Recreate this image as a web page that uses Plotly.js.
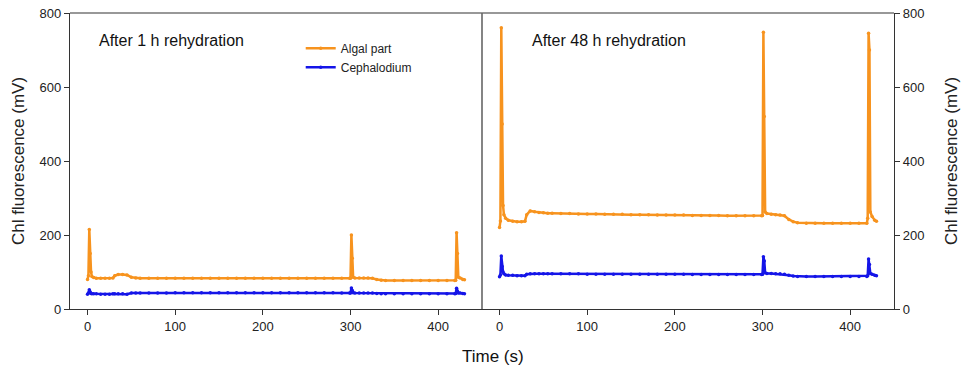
<!DOCTYPE html>
<html>
<head>
<meta charset="utf-8">
<script src="https://cdn.plot.ly/plotly-3.0.1.min.js"></script>
<style>html,body{margin:0;padding:0;background:#fff;}#chart{width:961px;height:372px;}</style>
</head>
<body>
<div id="chart"></div>
<script>
// Time points (s), shared by both panels
const time = [0,1,2,3,4,5,7,10,15,20,25,29,31,35,40,45,50,55,60,70,80,90,100,110,120,130,140,150,160,170,180,190,200,210,220,230,240,250,260,270,280,290,299,300,301,302,303,305,310,315,320,325,330,335,340,350,360,370,380,390,400,410,419,420,421,422,423,425,428,430];

// After 1 h rehydration
const algal1h = [80,90,215,150,100,88,85,83,83,83,83,84,90,93,93,92,86,84,83,83,83,83,83,83,83,83,83,83,83,83,83,83,83,83,83,83,83,83,83,83,83,83,83,83,200,137,86,84,84,84,84,83,80,78,77,77,77,77,77,77,77,77,77,78,206,150,86,84,80,79];
const ceph1h  = [40,43,52,46,42,41,41,41,40,40,40,41,41,41,41,40,43,43,43,43,43,43,44,44,44,44,44,44,44,44,44,44,44,44,44,44,44,44,44,44,44,43,43,43,57,50,44,43,43,43,43,43,42,41,41,41,41,41,41,41,41,41,41,42,56,48,43,43,42,41];

// After 48 h rehydration
const algal48h = [220,238,760,500,280,255,245,240,237,236,236,237,255,265,263,261,260,259,259,258,258,257,257,257,256,256,256,255,255,255,254,254,254,254,253,253,253,253,252,252,252,252,252,253,748,520,262,258,256,255,254,252,242,236,233,232,232,232,232,232,232,232,232,245,745,700,262,250,240,237];
const ceph48h  = [87,92,143,115,100,95,92,91,91,90,90,90,94,95,95,95,95,95,95,95,95,95,94,94,94,94,94,94,94,94,94,94,94,94,93,93,93,93,93,93,93,93,93,94,141,130,98,96,96,95,95,94,91,89,88,88,88,88,88,88,88,88,88,90,135,120,96,94,91,90];

const seriesNames = ['Algal part','Cephalodium'];
const ORANGE = '#F7931E', BLUE = '#1515E8';
const yTicks = [0,200,400,600,800];
const xTicks = [0,100,200,300,400];
const FONT = 'Liberation Sans, Arial, sans-serif';

function tr(y, name, color, xa, ya, show){
  return {x: time, y: y, name: name, xaxis: xa, yaxis: ya, type:'scatter', mode:'lines+markers',
    showlegend: show, line:{color: color, width: 2.5}, marker:{color: color, size: 3.5}};
}
const data = [
  tr(algal1h, seriesNames[0], ORANGE, 'x', 'y', true),
  tr(ceph1h, seriesNames[1], BLUE, 'x', 'y', true),
  tr(algal48h, seriesNames[0], ORANGE, 'x2', 'y2', false),
  tr(ceph48h, seriesNames[1], BLUE, 'x2', 'y2', false)
];

const axCommon = {showgrid:false, zeroline:false, showline:true, linecolor:'#333', linewidth:1.2,
  ticks:'outside', ticklen:5, tickcolor:'#333', tickfont:{family:FONT, size:13, color:'#222'}};

const layout = {
  width: 961, height: 372,
  margin: {l:70, r:67, t:13, b:63},
  paper_bgcolor:'#fff', plot_bgcolor:'#fff',
  font: {family: FONT, color:'#222'},
  showlegend: true,
  legend: {x:0.28, y:0.93, xanchor:'left', yanchor:'top', font:{family:FONT, size:12, color:'#222'},
    bgcolor:'rgba(0,0,0,0)', tracegroupgap:0},
  xaxis: Object.assign({}, axCommon, {domain:[0,0.5], range:[-20,450], tickvals:xTicks, anchor:'y'}),
  xaxis2: Object.assign({}, axCommon, {domain:[0.5,1], range:[-20,450], tickvals:xTicks, anchor:'y2'}),
  yaxis: Object.assign({}, axCommon, {range:[0,800], tickvals:yTicks, anchor:'x',
    title:{text:'Chl fluorescence (mV)', font:{family:FONT, size:17, color:'#222'}, standoff:10}}),
  yaxis2: Object.assign({}, axCommon, {range:[0,800], tickvals:yTicks, anchor:'x2', side:'right',
    title:{text:'Chl fluorescence (mV)', font:{family:FONT, size:17, color:'#222'}, standoff:22}}),
  shapes: [
    {type:'line', xref:'paper', yref:'paper', x0:0, x1:1, y0:1, y1:1, line:{color:'#333', width:1.2}},
    {type:'line', xref:'paper', yref:'paper', x0:0.5, x1:0.5, y0:0, y1:1, line:{color:'#666', width:1.6}}
  ],
  annotations: [
    {text:'After 1 h rehydration', xref:'paper', yref:'paper', x:(97-70)/824, y:(309-40)/296,
      xanchor:'left', yanchor:'middle', showarrow:false, font:{family:FONT, size:16, color:'#111'}},
    {text:'After 48 h rehydration', xref:'paper', yref:'paper', x:(530-70)/824, y:(309-40)/296,
      xanchor:'left', yanchor:'middle', showarrow:false, font:{family:FONT, size:16, color:'#111'}},
    {text:'Time (s)', xref:'paper', yref:'paper', x:(493-70)/824, y:(309-356)/296,
      xanchor:'center', yanchor:'middle', showarrow:false, font:{family:FONT, size:17, color:'#111'}}
  ]
};

Plotly.newPlot('chart', data, layout, {displayModeBar:false, staticPlot:true});
</script>
</body>
</html>
